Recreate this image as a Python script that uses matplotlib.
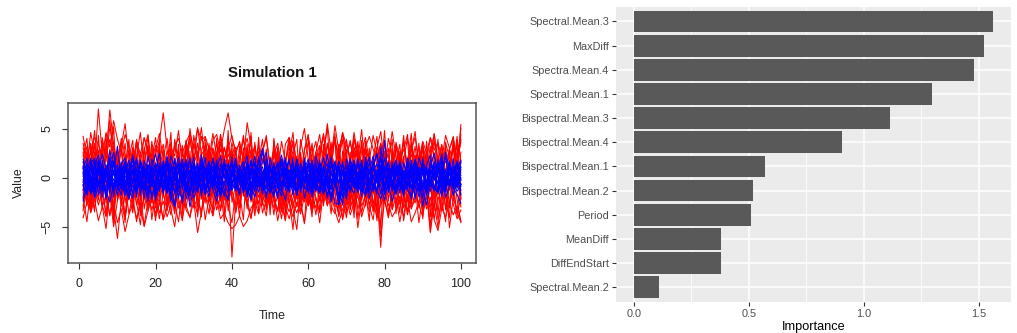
import matplotlib
matplotlib.use("Agg")
import matplotlib.pyplot as plt
from matplotlib.ticker import MultipleLocator

plt.rcParams['font.family'] = ['Liberation Sans', 'DejaVu Sans']

# ---------------------------------------------------------------------------
# Simulated series (time 1..100): wide-variance group (red), narrow group (blue)
# ---------------------------------------------------------------------------
time_steps = list(range(1, 101))

red_1 = [4.2, 2.1, 3.5, 1.0, 7.0, 2.4, -0.8, 1.9, 3.3, 0.5,
         -1.7, 1.2, 2.8, -0.4, 3.9, 1.6, -2.3, 0.7, 2.5, -1.1,
         1.8, 3.4, 0.2, -2.6, 1.5, 2.9, -0.3, 3.8, 1.1, -1.9,
         0.6, 2.7, 4.1, 1.3, -0.9, 2.2, 3.6, 0.4, -2.1, 1.7,
         3.1, -0.6, 1.4, 2.6, -1.8, 0.9, 3.3, -0.2, 1.9, -2.7,
         0.3, 2.4, -1.2, 1.6, 3.7, 0.8, -1.5, 2.1, -0.4, 1.2,
         3.5, -0.7, 2.0, 4.3, 1.1, -2.2, 0.6, 2.8, -1.0, 1.5,
         -2.9, 0.4, 2.3, -0.8, 3.0, 1.7, -1.6, 0.9, 2.6, -0.5,
         1.3, 3.9, -1.4, 0.2, 2.2, -2.4, 1.0, 3.2, 0.1, -1.3,
         2.5, 0.7, -1.9, 1.8, 3.4, -0.6, 1.1, 2.9, 0.3, 4.4]
red_2 = [-4.1, -2.5, -3.3, -0.9, -2.8, -1.4, -3.6, -2.0, -3.1, -6.2,
         -2.4, -0.6, -3.7, -1.8, -4.5, -2.2, -0.8, -3.4, -1.5, -4.0,
         -2.7, -0.3, -1.9, -3.8, -1.1, -2.6, -4.4, -1.7, -0.5, -3.0,
         -2.1, -3.5, -1.0, -2.5, -0.4, -1.9, -3.3, -0.8, -2.4, -1.2,
         -3.6, -1.4, -0.2, -2.8, -1.1, -3.9, -0.7, -2.3, -1.6, -3.1,
         -0.9, -2.0, -4.2, -1.3, -0.6, -2.7, -1.8, -3.4, -0.5, -2.2,
         -1.5, -3.8, -0.8, -2.6, -1.2, -0.3, -3.0, -1.9, -4.1, -1.1,
         -2.4, -0.6, -3.2, -1.7, -0.9, -2.9, -4.3, -1.4, -2.1, -0.4,
         -3.5, -1.8, -0.7, -2.6, -4.0, -1.2, -2.3, -0.5, -3.1, -1.6,
         -2.8, -0.9, -4.2, -1.9, -3.3, -0.6, -2.5, -1.3, -3.7, -4.5]
red_3 = [1.5, 3.2, 0.8, 2.6, -0.5, 4.1, 2.0, 6.9, 3.4, 1.2,
         4.0, 2.3, 0.4, 3.1, 1.6, -0.9, 2.8, 4.4, 1.0, 2.5,
         3.7, 6.6, 2.9, 0.7, 3.3, 1.8, -0.2, 2.4, 4.2, 1.3,
         2.7, 0.5, 3.6, 1.9, 4.5, 2.2, 0.9, 3.0, 1.4, 2.6,
         -0.4, 1.7, 3.9, 2.1, 0.6, 3.2, 1.1, 2.8, 4.0, 0.8,
         2.3, 3.5, 1.2, -0.6, 2.0, 3.8, 1.5, 0.3, 2.9, 4.3,
         1.8, 0.7, 3.1, 2.4, 5.5, 2.6, 1.0, 3.4, 0.5, 2.2,
         3.8, 1.3, -0.3, 2.7, 4.1, 1.6, 0.9, 3.0, 4.7, 1.4,
         2.5, 0.2, 3.6, 1.9, 2.8, 4.4, 1.1, 2.3, 0.6, 3.3,
         1.7, 4.0, 2.2, 0.4, 3.1, 1.5, 2.9, 4.2, 1.0, 5.4]
red_4 = [-1.2, 0.8, -2.4, 1.5, -0.6, -3.1, 0.9, -1.8, 2.2, -0.4,
         -2.9, 1.1, -1.5, -3.6, 0.3, -2.2, 1.7, -0.9, -2.6, 0.6,
         -1.4, 2.0, -3.3, -0.7, 1.2, -2.0, -4.1, 0.4, -1.6, 2.4,
         -3.0, -0.2, 1.4, -2.5, -0.8, 1.9, -3.4, -1.1, 0.7, -8.1,
         -2.3, 1.0, -0.5, -3.2, 1.6, -1.3, -2.7, 0.5, -0.9, 2.1,
         -1.8, -3.5, 0.2, 1.3, -2.1, -5.3, -0.4, 1.8, -1.7, -0.1,
         -3.0, 0.9, -2.4, 1.4, -0.8, -3.7, 0.6, -1.5, 2.0, -2.8,
         -0.3, 1.1, -4.2, -1.0, 0.8, -2.2, 1.5, -1.9, -7.1, -0.6,
         1.2, -2.6, -0.2, 2.3, -1.4, -3.6, 0.7, -1.0, -2.9, 1.6,
         -0.7, -5.5, 0.4, -1.8, 1.9, -3.3, -0.9, 0.6, -2.2, -4.6]
red_5 = [-0.8, 1.9, -2.1, 0.6, 2.8, -1.3, 3.5, 0.2, -1.7, 2.4,
         1.0, -2.6, 0.5, 2.9, -0.9, 1.6, -1.9, 3.2, 0.8, -0.4,
         2.2, -1.5, 1.3, 3.6, 0.1, -1.1, 2.5, 0.7, 3.9, 1.4,
         5.1, 2.3, 3.0, 1.2, 3.8, 4.4, 2.6, 4.9, 6.6, 4.0,
         2.8, 3.5, 1.9, 5.6, 3.1, 1.5, 2.7, -0.3, 1.8, 0.4,
         -1.6, 2.0, 0.9, -0.7, 2.6, 1.1, -2.2, 0.3, 1.7, -1.0,
         2.3, 3.7, 0.6, 1.9, -0.5, 2.9, 4.1, 1.3, -0.8, 2.1,
         0.5, -1.8, 1.4, 3.3, 0.2, 2.5, -0.9, 1.6, 3.0, -0.2,
         1.8, 0.7, -1.5, 2.7, 1.0, -0.6, 3.4, 1.9, 0.3, 2.2,
         -1.2, 1.5, 3.8, 0.4, 2.6, -0.8, 1.1, 3.1, 2.0, 3.6]
red_6 = [0.5, -1.7, -3.0, -0.4, -2.3, 0.9, -1.5, -3.8, -1.0, 0.2,
         -2.6, -4.3, -1.2, -0.3, -2.8, -1.6, -4.9, -2.2, -0.7, -3.1,
         -1.3, 0.4, -2.5, -1.8, -3.6, -0.6, -2.0, -3.3, -4.0, -2.4,
         -5.6, -3.5, -1.9, -2.7, -3.9, -2.1, -4.2, -3.6, -4.6, -5.2,
         -4.8, -3.9, -5.0, -4.4, -3.1, -2.5, -3.7, -1.8, -2.9, -0.9,
         -2.2, -3.4, -1.1, -0.5, -2.6, -1.4, -3.0, -0.8, -2.1, -1.7,
         -3.5, -0.6, -2.3, -1.0, -2.8, -1.9, -0.4, -3.2, -2.0, -4.1,
         -1.3, -2.7, -0.8, -3.6, -1.5, -0.2, -2.4, -3.0, -1.1, -2.6,
         -0.7, -3.3, -1.9, -4.5, -2.2, -0.9, -3.1, -1.6, -2.8, -4.0,
         -1.4, -5.6, -2.5, -0.8, -3.4, -1.7, -2.9, -0.5, -3.8, -2.0]
red_7 = [2.6, -0.9, 1.4, 4.8, 0.3, -2.0, 3.1, 5.9, 1.7, -1.4,
         0.8, 3.5, -0.3, -2.7, 2.2, 4.6, 1.0, -1.2, 3.3, 0.5,
         -2.1, 1.9, 4.0, 0.6, -1.6, 2.7, 0.1, 3.8, 1.2, -0.8,
         2.4, 5.1, 1.5, -1.1, 3.0, 0.4, -2.4, 1.8, 3.6, 0.9,
         -1.3, 2.1, 4.3, 0.7, 2.9, -0.5, 1.6, 3.9, 0.2, -1.9,
         2.8, 1.3, -0.6, 3.4, 4.1, 0.8, 2.2, -1.0, 1.4, 3.7,
         0.5, -1.5, 2.6, 4.5, 1.1, 3.2, -0.2, 2.0, 4.6, 1.6,
         -0.8, 3.1, 1.9, 4.9, 0.4, 2.5, -1.2, 1.7, 3.5, 0.9,
         4.0, 2.3, -0.4, 1.2, 3.8, 0.6, 2.7, 4.7, 1.0, 3.6,
         -0.9, 2.0, 4.4, 1.3, 0.1, 3.5, 2.1, -0.7, 3.9, 1.6]
red_8 = [-2.0, -4.5, -1.1, -3.2, -0.3, -2.8, -4.0, -1.6, -5.0, -2.3,
         -0.8, -3.9, -1.7, -0.2, -2.5, -4.8, -1.3, -3.0, -0.6, -2.1,
         -4.2, -1.5, -3.4, -0.9, -2.6, -4.5, -1.2, -3.1, -0.5, -2.4,
         -3.7, -1.0, -4.3, -2.0, -0.6, -3.3, -1.8, -0.3, -2.9, -4.6,
         -1.4, -3.0, -0.7, -2.2, -4.1, -1.9, -0.4, -3.6, -2.3, -1.1,
         -3.8, -0.5, -2.7, -4.4, -1.6, -3.2, -5.3, -1.0, -2.5, -0.8,
         -3.5, -2.0, -4.6, -1.3, -0.2, -2.9, -3.7, -1.5, -4.3, -2.4,
         -0.7, -3.1, -1.8, -4.0, -2.6, -0.9, -3.4, -1.4, -6.0, -2.2,
         -3.9, -1.0, -2.8, -0.5, -4.4, -1.7, -3.2, -2.1, -0.6, -3.6,
         -1.9, -4.7, -2.6, -5.1, -1.2, -3.0, -0.4, -2.7, -4.2, -3.3]
red_9 = [-1.6, 2.3, -3.0, 0.7, -0.4, 3.7, -2.2, 1.1, -4.1, 0.2,
         2.8, -1.4, 0.9, -3.3, 1.8, -0.6, 3.1, -2.5, 0.4, -1.0,
         3.9, -2.0, 1.5, -0.8, -3.7, 2.1, 0.3, -1.9, 2.7, -3.1,
         1.0, -0.3, -2.6, 3.3, 0.6, -1.5, 2.2, -3.8, 1.3, 3.0,
         -0.9, -4.0, 0.8, 2.4, -1.7, 3.6, -0.2, -2.8, 1.6, 0.5,
         2.9, -1.2, -3.5, 1.4, 3.2, -0.7, -2.0, 2.6, -1.1, 0.3,
         -3.3, 1.9, 0.0, -2.4, 3.5, 1.2, -1.3, 2.3, -0.5, -3.6,
         1.7, 3.0, -1.8, 0.6, -2.9, 2.0, 0.4, -4.4, 1.1, 2.7,
         -0.7, -3.2, 1.5, 3.4, -1.6, 0.8, -2.5, 1.9, -0.1, 3.1,
         -2.2, 0.9, 2.5, -3.9, 1.2, -0.6, 2.8, -2.1, 0.5, -3.0]
red_10 = [3.0, 1.8, 2.5, 4.1, 3.4, 2.0, 4.6, 3.1, 5.8, 3.9,
          2.6, 4.4, 3.0, 1.5, 3.7, 2.4, 4.0, 2.8, 1.6, 3.3,
          2.1, 0.9, 2.7, 1.4, 3.2, 4.0, 2.5, 3.6, 4.5, 3.0,
          5.0, 3.8, 4.2, 2.9, 1.7, 3.5, 2.2, 0.8, 2.4, 1.3,
          -0.2, 1.1, -0.8, 0.6, -1.4, -0.3, -2.0, -0.9, -2.6, -1.5,
          -3.1, -1.9, -0.7, -2.4, -3.5, -2.1, -1.0, -2.7, -1.6, -0.4,
          -1.8, -0.6, 0.5, -0.9, 1.2, 2.5, 3.8, 2.2, 4.6, 3.3,
          2.0, 3.9, 2.6, 1.4, 3.1, 4.2, 2.9, 1.8, 3.5, 2.3,
          0.9, 2.0, 3.3, 1.5, -0.3, 1.0, 2.4, 0.6, 1.8, 3.7,
          2.5, 4.1, 2.8, 3.6, 1.9, 4.3, 3.0, 1.4, 2.6, 3.9]
red_11 = [-2.9, -1.5, -3.6, -2.2, -4.4, -3.0, -1.8, -3.9, -2.5, -4.6,
          -3.2, -5.5, -3.8, -2.6, -4.1, -2.9, -5.0, -3.4, -2.0, -3.7,
          -2.4, -4.3, -3.1, -1.6, -2.8, -1.3, -0.4, -1.9, -0.8, 0.5,
          -0.6, 1.1, -0.3, 0.9, 2.0, 0.7, 1.8, 3.1, 1.6, 2.4,
          1.2, 0.4, 1.9, -0.2, 0.8, -1.1, 0.3, -0.9, -2.2, -1.0,
          -2.5, -3.3, -1.9, -3.0, -4.2, -2.7, -3.6, -2.3, -1.4, -2.8,
          -1.7, -3.1, -2.0, -0.9, -2.4, -1.5, -3.4, -4.6, -3.2, -2.1,
          -3.8, -2.6, -1.3, -2.9, -1.8, -3.5, -2.3, -4.1, -2.8, -1.6,
          -2.7, -4.0, -3.3, -1.9, -3.0, -2.2, -4.5, -3.6, -2.4, -1.5,
          -3.2, -2.0, -4.3, -5.4, -3.1, -4.0, -2.6, -3.8, -2.9, -4.4]
red_12 = [1.0, -2.6, 3.4, -0.5, 1.8, -1.9, 0.4, 2.9, -3.4, 1.3,
          -0.9, 2.4, -2.2, 0.7, 3.6, -1.3, 0.2, -2.8, 2.0, 4.1,
          -0.7, 1.5, -3.0, 2.6, 0.3, -1.7, 3.3, -0.4, -2.5, 1.9,
          3.5, -1.0, 0.6, 2.8, -2.1, 4.0, -0.6, 1.4, -1.8, 2.5,
          0.1, -2.9, 3.0, -0.8, 1.7, -1.5, 2.3, 0.5, -3.3, 1.0,
          -1.4, 3.1, 0.8, -2.3, 2.2, 0.0, -1.2, 3.9, 1.6, -2.7,
          0.9, 2.6, -1.6, 3.4, -0.3, 1.2, 4.0, -1.9, 0.7, 2.9,
          -2.4, 1.3, 3.7, -0.6, 2.1, -1.1, 0.5, 2.8, -2.8, 1.8,
          3.0, -1.4, 0.4, 2.5, -2.0, 1.1, 3.6, -0.9, 2.3, -1.7,
          0.8, 3.2, -2.6, 1.5, -0.2, 2.7, -1.3, 4.1, 0.6, 5.0]
red_13 = [-3.4, 0.6, 2.9, -1.8, 4.3, -0.7, -3.9, 1.6, 5.2, -2.4,
          0.3, -4.6, 2.0, 3.8, -1.1, -3.0, 1.4, 4.2, -0.5, -2.7,
          3.1, -1.6, 0.8, 4.6, -3.2, 1.0, -2.1, 3.5, -0.9, 2.4,
          -4.0, 0.5, 3.3, -1.4, -3.6, 2.6, 0.2, -2.3, 4.0, -1.0,
          1.9, -3.1, 0.7, 3.4, -2.5, -0.4, 4.1, -1.7, 2.2, -3.8,
          0.9, 3.0, -2.0, -4.3, 1.5, 3.6, -0.8, -2.9, 2.7, 4.4,
          -1.3, 0.4, -3.5, 2.3, 5.1, -0.6, -2.6, 1.8, 3.9, -1.9,
          0.1, -4.1, 2.8, -0.3, 3.7, -2.2, 1.2, -3.3, 0.6, 4.8,
          -1.5, 2.5, -3.7, 0.9, 4.3, -0.2, -2.8, 1.7, 3.2, -4.2,
          2.1, -1.2, 0.4, 3.9, -2.4, -4.5, 1.3, 3.5, -0.8, 2.6]
red_14 = [2.2, 4.0, -1.0, -3.5, 1.1, 3.0, -2.6, 0.5, -4.8, 1.9,
          3.6, -0.4, -2.2, 2.5, 0.6, -3.9, 1.4, 3.3, -1.6, -4.4,
          0.8, 2.9, -3.0, -0.7, 3.9, 1.7, -2.8, 0.0, 5.0, 2.1,
          -1.9, -4.0, 0.9, 3.1, -0.5, -2.7, 4.4, 1.2, -3.4, 0.3,
          2.7, -1.5, -4.3, 1.6, 4.2, -0.1, -3.6, 2.0, 0.5, -2.1,
          3.8, 1.0, -1.2, -3.3, 2.4, 4.6, 0.4, -2.5, -4.7, 1.3,
          3.2, -0.9, 0.6, -2.9, 1.9, 3.6, -1.7, -3.8, 2.7, 0.2,
          -1.1, 4.1, 1.5, -2.3, -0.6, 3.0, -3.5, 0.8, -5.2, 2.2,
          0.7, -1.8, 3.4, -0.3, -3.1, 1.6, 4.5, -1.4, 0.1, -2.6,
          3.7, -0.5, -3.4, 2.1, 0.9, -1.9, -4.1, 1.8, 3.3, -1.7]
red_15 = [-0.3, -2.9, 1.7, 3.3, -1.5, 0.2, 4.4, -0.8, -2.9, 3.1,
          -1.8, 0.7, 3.9, -2.4, -0.1, 2.6, -3.2, -1.0, 3.7, 1.1,
          -2.0, -4.3, 0.4, 2.8, -1.3, 3.4, -3.6, 1.5, -0.6, 4.3,
          2.0, -2.2, -0.4, 3.5, -3.9, 0.6, 1.8, -1.6, 4.8, -2.5,
          -0.7, 3.2, -1.9, 0.3, 4.6, -3.4, 1.2, -0.9, 2.9, -2.6,
          4.0, -1.1, 1.7, -3.7, 0.5, 2.3, 3.9, -2.3, 0.9, -1.4,
          -4.0, 2.1, 3.3, -0.6, -2.2, 0.8, 4.5, -3.0, 1.4, -0.2,
          2.6, -3.3, 0.3, 3.8, -1.5, -4.4, 2.0, 4.2, -0.4, 1.0,
          -2.4, 3.0, -0.9, -3.6, 1.8, 4.0, -1.7, 0.2, 3.5, -2.9,
          1.3, -4.0, 2.4, 0.0, -1.8, 3.6, -3.1, 1.1, 4.2, -2.2]
red_16 = [1.1, 2.7, 0.4, 3.5, 1.8, -0.3, 2.2, 3.9, 1.5, 2.8,
          0.6, -1.2, 0.9, -0.8, 1.4, -2.0, -0.5, -1.7, -3.3, -1.9,
          -3.6, -2.4, -4.0, -2.8, -1.5, -3.1, -1.9, -0.6, -2.3, -1.0,
          0.4, -0.9, 1.3, 2.1, 0.7, 2.6, 3.4, 1.9, 3.0, 4.3,
          2.4, 3.7, 1.6, 2.9, 0.8, 2.2, 1.0, -0.4, 0.5, -1.3,
          -0.2, -1.8, -3.0, -1.5, -2.7, -4.0, -2.5, -3.7, -1.9, -2.9,
          -1.2, 0.1, -0.8, 1.5, 0.6, 2.3, 1.1, 3.0, 4.4, 2.5,
          3.5, 2.0, 3.3, 1.2, 2.6, 0.4, 1.8, 3.1, 2.2, 0.9,
          -0.5, 0.8, -1.4, -0.3, -2.1, -3.4, -1.8, -2.6, -1.0, -3.2,
          -2.0, -0.7, -2.4, -1.3, 0.2, -1.1, 0.9, -0.4, 1.6, 0.5]
red_17 = [-2.2, -0.4, -3.5, -1.6, 0.8, -2.9, -5.2, -1.3, -3.3, -0.9,
          -2.0, -4.0, -0.7, 1.2, -1.8, -3.4, -2.1, 0.5, -4.3, -1.4,
          -2.6, 0.7, -1.2, -3.2, -5.0, -1.9, -0.1, -2.8, -4.1, -1.0,
          -2.3, 0.9, -1.7, -3.7, -0.6, -2.5, -1.1, -4.5, -0.8, -2.0,
          -3.4, 0.3, -1.5, -2.7, -4.2, -1.6, 0.6, -2.4, -3.9, -0.9,
          -1.9, -4.4, -2.2, 0.4, -1.3, -3.1, -0.5, -2.6, -4.6, -1.8,
          0.2, -2.1, -3.6, -1.0, -2.9, 0.7, -1.6, -4.0, -2.4, -0.7,
          -3.3, -1.4, -5.1, -2.0, 0.1, -2.8, -1.1, -3.5, -0.4, -2.3,
          -4.1, -1.6, 0.5, -2.7, -1.0, -3.8, -2.2, -0.6, -4.6, -1.9,
          -0.8, -3.0, -1.5, -4.3, -2.6, 0.3, -5.1, -2.1, -3.4, -0.6]
red_18 = [3.5, 1.2, 4.6, 2.4, 0.3, 3.8, 1.6, 5.2, 2.8, 0.9,
          3.2, 5.5, 2.0, 0.6, 3.7, 1.4, 4.1, 2.6, 0.2, 2.9,
          4.5, 1.8, 0.4, 3.1, 2.2, 4.8, 1.0, 2.7, 0.5, 3.4,
          1.7, 4.2, 2.5, 0.7, 3.0, 1.3, 4.4, 2.1, 0.8, 3.6,
          1.5, 0.1, 2.8, 4.0, 1.9, 3.3, 0.6, 2.4, 4.3, 1.2,
          2.9, 0.5, 3.7, 1.6, 4.1, 2.3, 0.9, 3.2, 5.0, 1.8,
          0.3, 2.6, 4.4, 1.1, 3.5, 2.0, 5.3, 2.7, 0.8, 3.9,
          1.4, 4.6, 2.2, 0.4, 3.0, 1.7, 4.3, 2.5, 0.6, 3.4,
          1.9, 4.7, 2.1, 0.3, 3.6, 1.2, 2.8, 4.1, 1.5, 3.2,
          0.7, 2.4, 4.5, 1.8, 3.3, 0.5, 2.9, 4.0, 1.4, 3.8]

blue_1 = [0.5, -1.2, 1.8, 0.3, -0.7, 1.4, -1.9, 0.8, 2.6, -0.4,
          1.1, -1.5, 0.2, 1.9, -0.9, 0.6, -2.1, 1.3, -0.3, 0.9,
          -1.4, 1.7, 0.1, -0.8, 2.0, -1.1, 0.4, 1.5, -1.7, 0.7,
          -0.2, 1.2, -1.3, 0.5, 1.8, -0.6, -1.9, 0.9, 1.4, -0.5,
          0.3, -1.6, 1.0, 2.2, -0.9, 0.2, 1.6, 3.0, -0.4, 1.1,
          -1.2, 0.6, 1.9, -0.7, 0.4, -1.8, 1.2, 0.0, -1.0, 1.7,
          0.8, -0.5, 1.5, -1.4, 0.3, 2.1, -0.8, 0.9, -2.0, 0.5,
          1.3, -1.1, 0.2, 1.8, -0.6, -1.5, 0.7, 1.4, -0.3, 3.8,
          0.1, -1.3, 1.1, 0.6, -1.9, 1.6, -0.2, 0.8, -1.0, 2.0,
          -0.7, 0.4, 1.3, -1.6, 0.9, -0.1, 1.7, -1.2, 0.5, 1.0]
blue_2 = [-1.3, 0.8, -0.4, 1.6, -1.8, 0.2, 1.1, -0.9, 0.5, 3.2,
          -0.6, 1.4, -1.1, 0.7, -2.0, 1.2, 0.3, -1.4, 1.9, -0.2,
          0.6, -1.7, 1.3, -0.5, -2.9, 0.9, -1.2, 0.4, 1.7, -0.8,
          1.0, -0.3, 2.1, -1.5, 0.2, 1.3, -0.7, -1.9, 0.8, 1.5,
          -1.0, 0.5, -1.6, 1.1, 0.1, -0.9, 1.8, -1.3, 0.6, -0.4,
          1.6, -1.1, 0.3, 2.0, -0.6, 1.0, -1.8, 0.7, -0.2, 1.4,
          -1.5, 0.9, -0.3, 1.2, -2.1, 0.4, 1.7, -0.8, -2.8, 0.6,
          -0.5, 1.5, -1.2, 0.8, 0.2, -1.6, 1.1, -0.4, 1.9, -0.9,
          0.7, -1.4, 0.3, 1.6, -1.0, 0.5, -2.2, 1.2, -0.1, 0.9,
          -1.7, 1.4, 0.2, -0.6, 1.8, -1.3, 0.6, -0.8, 1.5, -0.3]
blue_3 = [1.9, 0.4, -0.8, 1.2, 2.3, -0.5, 0.9, 1.6, -1.1, 0.3,
          1.4, 2.0, -0.2, 0.7, -1.3, 1.8, 0.5, -0.6, 1.1, 2.4,
          0.2, -1.0, 0.8, 1.5, -0.4, 0.6, 1.9, -0.9, 0.1, 1.3,
          -1.5, 0.9, 0.4, 1.7, -0.7, 1.0, 2.2, -0.1, 0.5, -1.2,
          1.2, 0.3, -0.8, 1.6, 0.7, -1.4, 0.9, 1.5, 2.6, -0.3,
          0.8, 1.3, -0.6, 0.4, 1.9, -1.0, 0.2, 1.1, -0.5, 0.6,
          1.7, -0.9, 0.5, 2.1, 0.0, -1.2, 1.4, 0.3, -0.7, 1.0,
          0.4, 1.8, -0.4, 0.9, -1.5, 0.7, 1.2, 2.3, -0.2, 0.6,
          1.5, -0.8, 0.3, 1.0, -1.1, 1.6, 0.2, -0.5, 2.0, 0.8,
          -0.6, 1.1, 2.5, 0.1, -1.0, 0.7, 1.4, -0.3, 0.9, 1.8]
blue_4 = [-2.4, -0.9, 0.3, -1.6, -0.4, -2.0, 0.5, -1.2, -0.1, -1.8,
          0.4, -1.0, -2.2, -0.3, 0.8, -1.5, -0.6, -2.4, 0.2, -0.9,
          -1.3, 0.6, -0.5, -1.9, -3.0, -0.7, 0.3, -1.4, -0.2, -2.1,
          -0.8, 0.5, -1.6, -0.4, -1.1, 0.7, -2.0, -0.6, 0.1, -1.3,
          -0.5, -1.8, 0.4, -0.9, -2.3, -0.2, 0.6, -1.1, -0.7, -1.6,
          0.2, -0.8, -1.9, 0.5, -0.3, -1.4, -0.6, 0.8, -2.1, -0.4,
          -1.2, 0.3, -0.7, -1.7, -0.1, -2.5, -0.5, -2.8, -0.9, 0.4,
          -1.5, -0.2, 0.6, -1.0, -1.8, -0.4, 0.2, -1.3, -2.2, -0.6,
          0.5, -0.9, -1.6, -0.3, 0.7, -1.2, -2.0, -0.5, 0.1, -2.9,
          -0.8, -1.4, 0.3, -0.6, -1.9, -0.2, 0.4, -1.1, -1.7, -2.6]
blue_5 = [0.1, 1.5, -0.7, -1.9, 0.8, 0.2, -1.3, 2.1, 0.4, -0.6,
          -1.8, 0.9, 1.3, -0.5, 0.3, -1.1, 1.7, 0.6, -2.2, 0.0,
          1.2, -0.4, -1.6, 0.7, 1.0, -2.1, -0.2, 1.6, 0.5, -1.0,
          0.8, -1.7, -0.1, 0.9, -0.8, 1.4, 0.2, -1.2, -2.3, 0.6,
          -0.3, 1.1, -1.4, -0.6, 1.9, -0.2, -1.5, 0.4, 1.2, -0.9,
          -2.0, 0.5, 0.9, -1.3, -0.4, 1.5, 0.0, -0.8, 1.7, -1.6,
          0.3, -0.5, -1.1, 0.8, 1.4, -0.7, 0.2, -1.9, 0.6, -0.3,
          -1.2, 1.0, 0.4, -0.6, 1.6, -1.4, -0.1, 0.7, -1.7, 0.3,
          -0.8, 1.3, -0.2, -1.5, 0.5, 1.1, -1.0, -0.4, 0.9, -2.1,
          0.6, -0.9, 1.6, 0.2, -1.3, 0.8, -0.5, 1.9, -1.1, 0.0]
blue_6 = [-0.5, 0.7, 2.0, -0.8, 1.1, -1.5, 0.4, -0.3, 1.7, -1.2,
          0.9, 0.2, -0.9, 2.3, -0.4, 0.6, 1.2, -1.6, 0.1, 1.5,
          -0.7, 0.3, 2.2, -0.2, -1.4, 0.8, 1.6, -0.6, -1.9, 0.5,
          1.3, -1.0, 0.7, -0.5, 1.9, 0.0, -1.3, 1.1, 0.4, -0.8,
          1.6, -0.1, 0.5, -1.7, 0.9, 1.4, -0.4, 2.9, 0.2, -1.1,
          0.6, -0.7, 1.8, 0.3, -1.5, 1.0, 0.5, -0.9, 2.0, -0.3,
          -1.0, 1.2, 0.1, -1.6, 0.7, 0.4, -0.6, 1.5, -1.2, 1.9,
          0.3, -0.8, 1.4, -0.2, 0.8, 2.1, -1.1, 0.5, -0.4, 1.2,
          -1.5, 0.6, 1.8, -0.7, 0.2, -1.3, 1.0, 0.4, -0.9, 1.6,
          0.8, -0.4, -1.4, 1.1, 0.3, 2.2, -0.6, 0.7, 1.3, -0.9]
blue_7 = [1.2, -0.3, -1.6, 0.6, -0.9, 1.8, -0.5, 0.3, -1.4, 1.0,
          -0.2, -1.9, 0.5, 1.3, -1.2, -0.4, 0.8, -2.0, 1.1, 0.2,
          -1.0, 0.9, -0.6, -2.3, 0.4, 1.5, -0.8, -0.1, 0.7, -1.5,
          0.2, 1.4, -1.1, 0.6, -0.3, -1.8, 0.9, 0.3, -0.7, 1.6,
          -1.3, 0.0, 1.2, -0.5, -1.6, 0.8, -0.2, -1.0, 0.5, 1.3,
          -0.6, -1.7, 0.4, 1.0, -0.9, 0.2, -1.4, 1.5, 0.1, -0.8,
          0.7, -1.2, 1.8, -0.4, -1.9, 0.6, -0.1, 1.1, -1.1, -2.2,
          0.5, -0.3, -1.5, 1.4, 0.0, -0.9, 1.7, -0.6, 0.3, -1.3,
          1.0, 0.4, -1.8, 0.8, -0.5, -0.1, 1.3, -1.2, 0.6, -0.4,
          -1.6, 0.9, -0.2, 1.6, -0.7, -1.4, 0.5, 0.1, -0.8, 1.1]
blue_8 = [-1.9, -0.4, 0.9, -0.2, 1.6, -1.0, 1.3, 0.1, -0.7, 0.8,
          -1.2, 0.5, 1.8, -0.6, 0.2, 1.5, -1.3, 0.7, -0.5, -1.7,
          0.4, 1.1, -0.9, 0.3, 1.7, -0.3, -2.6, 0.6, 1.2, 0.0,
          -0.8, 1.9, 0.5, -1.4, 0.9, -0.7, 0.2, 1.4, -1.1, 0.3,
          2.0, -0.6, -0.1, 1.3, -1.5, 0.7, 1.0, -0.4, -1.2, 0.9,
          0.2, 1.6, -0.9, -0.2, 0.8, -1.1, 1.9, 0.4, -0.6, 0.1,
          1.2, -1.4, 0.5, -0.8, 1.0, 1.6, -0.3, -2.4, 0.6, 1.3,
          -0.5, 0.9, -1.0, 0.2, 1.5, 0.6, -0.7, -1.6, 3.1, 0.4,
          -1.1, 0.3, 1.7, -0.4, -0.9, 0.8, 0.1, 1.4, -1.5, 0.5,
          1.1, -0.6, -1.2, 0.7, 2.4, -0.3, -0.9, 1.2, 0.2, -1.8]
blue_9 = [0.9, 2.0, -0.1, -1.1, 0.4, 2.4, 1.0, -0.3, 0.6, -0.9,
          1.6, -0.5, 0.8, 2.1, 0.1, -1.0, 0.5, 1.3, -0.6, 0.7,
          2.5, -0.2, -1.2, 0.9, 0.3, 1.4, -0.7, 0.6, 2.0, -0.4,
          0.1, -1.3, 1.0, 0.7, -0.5, 1.8, 0.3, -0.8, 1.5, 0.4,
          -1.0, 0.8, 1.6, -0.3, 0.5, 2.2, -0.9, 0.6, 0.0, 1.2,
          -0.5, 0.9, 2.3, 0.2, -1.1, 0.7, 1.4, -0.2, 0.8, 1.9,
          -0.7, 0.4, 1.1, -1.3, 0.6, 1.7, -0.4, 0.2, 1.3, -0.8,
          1.9, 0.5, -0.6, 1.2, 0.0, 1.6, -1.2, 0.8, 0.3, 2.0,
          -0.4, 1.0, 0.6, -0.9, 1.5, 0.2, -0.5, 1.8, 0.4, -1.1,
          1.3, 2.3, -0.2, 0.9, 0.5, -0.8, 1.6, 0.1, -0.4, 1.5]
blue_10 = [-0.7, -1.8, -0.2, -2.1, -0.9, 0.3, -1.4, -2.5, -0.6, 0.1,
           -1.2, -0.4, -2.0, -0.8, -1.6, 0.4, -0.9, -1.5, -0.1, -2.3,
           -0.6, -1.1, 0.2, -1.8, -0.5, -1.3, -2.2, -0.3, -3.0, -0.9,
           -1.5, -0.2, -0.8, -1.9, 0.3, -1.1, -0.6, -1.7, -2.2, -0.4,
           -1.3, -0.7, 0.2, -1.6, -0.9, -2.0, -0.3, -1.2, -0.8, 0.1,
           -1.7, -0.5, -1.1, -2.3, -0.2, -0.9, -1.5, 0.3, -1.2, -0.6,
           -2.0, -0.4, -1.4, -0.1, -1.8, -0.7, -2.6, -2.7, -1.3, -0.3,
           -0.9, -1.6, 0.0, -1.1, -0.5, -2.1, -0.8, -1.3, -0.2, -1.7,
           -0.6, -2.4, -1.0, -0.3, -1.5, -0.7, 0.2, -1.9, -0.8, -1.2,
           -2.8, -0.4, -1.0, -1.6, -0.1, -2.0, -0.9, -0.5, -1.4, -0.7]
blue_11 = [0.3, -0.6, 1.1, -1.4, 0.7, -0.2, 0.9, -1.0, 1.5, -0.5,
           0.2, 1.7, -1.1, -0.3, 1.0, -1.8, 0.6, 0.1, -0.9, 1.4,
           -0.4, 0.8, -1.5, 1.2, 0.0, -0.7, 1.3, -1.2, 0.5, 2.1,
           -0.6, 0.4, -1.0, 1.6, -0.2, 0.7, -1.6, 1.1, 0.3, -0.9,
           0.8, -0.4, 1.4, -1.3, 0.2, 0.9, -0.8, 0.5, -1.9, 1.2,
           -0.3, 0.6, -1.2, 1.7, 0.1, -0.6, 1.0, -1.5, 0.7, 0.2,
           -0.9, 1.5, -0.5, 0.3, -1.1, 1.2, 0.4, -0.7, 1.6, -1.4,
           0.8, -0.1, -1.3, 0.6, 1.1, -0.8, 0.3, -1.7, 0.9, 0.0,
           -0.5, 1.3, -1.1, 0.7, 0.2, -0.9, 1.8, -0.6, 0.4, -1.2,
           1.0, -0.3, 0.6, -1.5, 1.4, 0.1, -0.8, 0.9, -0.4, 1.7]
blue_12 = [1.6, 0.2, -1.1, 0.9, 1.8, -0.8, 0.4, -1.6, 0.7, 1.3,
           -0.1, -1.4, 1.0, 0.5, 2.0, -0.6, 1.2, -0.3, 0.8, -1.2,
           1.5, 0.3, -0.5, 2.2, 0.9, -0.9, 0.5, 1.9, -0.2, 0.6,
           -1.1, 1.4, 0.8, -0.4, 2.0, 0.2, -0.7, 1.1, 0.6, 1.7,
           -0.3, 0.9, -1.2, 0.4, 1.5, -0.5, 2.1, 0.3, 1.0, -0.8,
           1.3, -0.2, 0.7, 1.8, -1.0, 0.5, 1.1, -0.6, 1.6, 0.2,
           0.9, -1.3, 1.4, 0.1, 2.4, -0.4, 0.8, 1.2, -0.9, 0.6,
           1.7, -0.1, 0.4, -1.4, 1.1, 0.7, 2.2, -0.5, 1.3, 0.3,
           -0.7, 1.6, 0.2, 1.0, -1.2, 0.8, 0.5, 1.9, -0.3, 1.2,
           0.6, -0.9, 1.5, 0.3, 2.1, -0.6, 1.0, 0.4, 1.7, 0.2]
blue_13 = [-0.9, 1.2, -1.7, 0.0, -0.6, 0.8, -2.0, -0.3, 0.6, -1.1,
           -0.2, 0.9, -1.4, -2.1, 0.3, -0.7, -1.2, 0.5, -1.9, -0.4,
           0.7, -1.3, -0.8, 0.2, -1.6, -0.5, 0.8, -2.2, -0.9, 0.4,
           -1.0, -0.1, -1.8, 0.6, -1.2, -2.4, 0.1, -0.6, -1.5, 0.9,
           -0.8, -1.3, 0.5, -2.0, -0.4, -0.9, 0.2, -1.7, 0.3, -1.0,
           -0.5, -2.1, 0.7, -0.7, -1.3, 0.0, -1.8, -0.3, 0.6, -1.4,
           -0.2, -0.9, -1.6, 0.4, -0.6, -1.2, 0.2, -2.2, -0.8, -1.5,
           0.1, -1.0, -0.4, -1.9, 0.5, -0.7, -1.4, 0.3, -0.9, -2.3,
           -0.1, -1.2, 0.4, -0.6, -1.7, -0.3, -0.9, 0.6, -2.0, -0.5,
           -1.3, 0.2, -0.8, -1.5, 0.5, -1.1, -0.2, -1.8, 0.1, -0.7]
blue_14 = [0.6, -0.2, 1.4, 2.0, -0.7, 1.0, 0.3, 2.7, 1.2, -0.4,
           0.5, 1.6, -0.9, 0.8, 1.9, 0.1, -0.6, 1.3, 0.7, -1.0,
           1.1, 0.4, 1.8, -0.3, 0.6, 2.1, -0.8, 0.9, 0.2, 1.5,
           0.0, 2.3, 0.7, -0.5, 1.2, -1.1, 0.8, 1.6, -0.2, 0.5,
           1.7, -0.4, 0.9, 0.3, -0.9, 1.4, 0.6, 1.1, -0.6, 2.0,
           0.4, -0.3, 1.5, -1.0, 0.8, 0.2, 1.8, -0.5, 0.9, 1.3,
           -0.4, 2.2, 0.5, 0.9, -0.8, 1.4, 0.1, 1.7, 0.6, -0.3,
           1.0, -0.9, 1.9, 0.3, 0.7, -0.4, 1.2, 2.5, 0.2, 0.8,
           1.6, -0.6, 0.4, 1.3, -0.2, 2.0, 0.9, -0.7, 1.1, 0.3,
           -0.5, 1.8, 0.6, 1.2, -0.1, 2.6, 0.8, 0.3, 1.4, -0.2]
blue_15 = [1.0, -1.6, 0.4, 1.9, -0.8, -1.3, 0.7, 1.5, -2.0, 0.3,
           -0.9, 1.2, 0.6, -1.7, 1.8, -0.3, -1.1, 2.2, 0.1, -1.5,
           0.9, -0.6, 1.6, -2.4, 0.2, 1.3, -1.0, 0.5, -1.8, 1.1,
           -0.4, 2.0, -1.2, 0.8, -0.1, -1.9, 1.4, 0.3, -0.9, 2.1,
           -1.4, 0.6, -0.5, 1.7, -2.1, 0.4, 1.0, -0.8, 1.9, -1.6,
           0.2, 1.4, -1.1, 0.7, -0.3, 2.0, -1.7, 0.5, 1.2, -0.9,
           1.8, -0.4, -1.6, 0.9, 0.3, -1.2, 1.5, -0.6, 0.8, -2.0,
           0.4, 1.6, -0.8, -1.4, 2.1, 0.0, -1.0, 0.6, 1.3, -1.7,
           0.9, -0.2, -1.5, 1.7, 0.3, -0.7, 1.1, -2.2, 0.5, 1.4,
           -1.0, 0.7, -0.3, 1.9, -1.6, 0.2, 1.2, -0.9, 0.6, -1.3]
blue_16 = [-0.2, 0.9, -1.4, -0.6, 1.3, 0.4, -2.2, 0.7, 1.6, -0.9,
           1.1, -0.4, -1.8, 0.8, -0.2, 1.7, -1.1, 0.3, 1.0, -2.0,
           -0.5, 1.4, 0.0, -1.3, 0.9, -0.7, 1.8, -1.6, 0.4, -0.3,
           1.5, -1.9, 0.6, 1.1, -0.8, 0.2, -1.4, 1.9, -0.6, 0.8,
           -1.1, 1.3, -0.2, -1.7, 0.7, 1.6, -0.9, 0.1, -2.1, 0.5,
           1.2, -0.6, -1.5, 0.9, 1.7, -0.4, 0.3, -1.2, 1.0, -0.1,
           -1.7, 0.6, 1.4, -0.8, 0.2, -2.0, 0.9, 1.2, -0.5, 0.4,
           -1.3, 0.8, 1.6, -0.6, -1.9, 0.5, 1.0, -0.3, 2.2, -1.1,
           0.3, -0.8, 1.3, -1.6, 0.7, 0.1, -1.2, 1.5, -0.4, 0.9,
           -1.8, 0.4, 1.1, -0.7, 0.2, -1.5, 1.6, -0.2, -1.0, 0.8]

red_runs = [red_1, red_2, red_3, red_4, red_5, red_6, red_7, red_8, red_9,
            red_10, red_11, red_12, red_13, red_14, red_15, red_16, red_17,
            red_18]
blue_runs = [blue_1, blue_2, blue_3, blue_4, blue_5, blue_6, blue_7, blue_8,
             blue_9, blue_10, blue_11, blue_12, blue_13, blue_14, blue_15,
             blue_16]

# ---------------------------------------------------------------------------
# Random-forest variable importance
# ---------------------------------------------------------------------------
features = ["Spectral.Mean.3", "MaxDiff", "Spectra.Mean.4", "Spectral.Mean.1",
            "Bispectral.Mean.3", "Bispectral.Mean.4", "Bispectral.Mean.1",
            "Bispectral.Mean.2", "Period", "MeanDiff", "DiffEndStart",
            "Spectral.Mean.2"]
importance = [1.561, 1.522, 1.480, 1.297, 1.114, 0.904, 0.570, 0.516,
              0.508, 0.377, 0.377, 0.107]

W, H, DPI = 1017, 333, 100
fig = plt.figure(figsize=(W / DPI, H / DPI), dpi=DPI, facecolor="white")

# ---------------- left: simulated series ----------------
ax1 = fig.add_axes([68 / W, 1 - 263 / H, (476 - 68) / W, (263 - 103) / H])
for run in red_runs:
    ax1.plot(time_steps[:len(run)], run, color="#ff0000", lw=0.75)
for run in blue_runs:
    ax1.plot(time_steps[:len(run)], run, color="#0000ff", lw=0.75)
ax1.margins(x=0.04, y=0.04)
ax1.set_xticks([0, 20, 40, 60, 80, 100])
ax1.set_yticks([-5, 0, 5])
for lab in ax1.get_yticklabels():
    lab.set_rotation(90)
    lab.set_va("center")
ax1.tick_params(direction="out", length=4.5, width=0.8, color="#333333",
                labelsize=9, labelcolor="#222222", pad=6)
for sp in ax1.spines.values():
    sp.set_color("#555555")
    sp.set_linewidth(1.1)
ax1.set_xlabel("Time", fontsize=8.8, color="#222222", labelpad=15)
ax1.set_ylabel("Value", fontsize=8.8, color="#222222", labelpad=12)
fig.text(272 / W, 1 - 73 / H, "Simulation 1", ha="center", va="center",
         fontsize=10.8, fontweight="bold", color="#111111")

# ---------------- right: importance bars ----------------
ax2 = fig.add_axes([616 / W, 1 - 301.7 / H, (1010.7 - 616) / W, (301.7 - 7) / H])
ax2.set_facecolor("#EBEBEB")
ax2.barh(features, importance, height=0.9, color="#595959", zorder=3)
ax2.set_ylim(len(features) - 0.4, -0.6)
ax2.set_xlim(-0.05 * max(importance), 1.05 * max(importance))
ax2.xaxis.set_major_locator(MultipleLocator(0.5))
ax2.xaxis.set_minor_locator(MultipleLocator(0.25))
ax2.set_xticks([0.0, 0.5, 1.0, 1.5])
ax2.set_xticklabels(["0.0", "0.5", "1.0", "1.5"])
ax2.grid(which="major", color="white", lw=1.1, zorder=1)
ax2.grid(which="minor", axis="x", color="white", lw=0.55, zorder=1)
ax2.tick_params(which="major", length=3, width=0.8, color="#333333",
                labelsize=7.8, labelcolor="#4D4D4D", pad=2)
ax2.tick_params(which="minor", length=0)
for sp in ax2.spines.values():
    sp.set_visible(False)
ax2.set_xlabel("Importance", fontsize=9.2, color="black", labelpad=2)

fig.savefig("out.png", dpi=DPI, facecolor="white")
